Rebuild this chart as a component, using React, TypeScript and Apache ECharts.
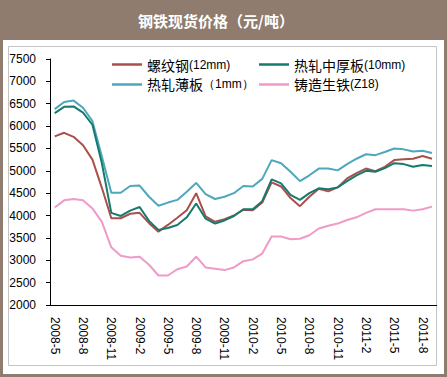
import React, { useEffect, useRef } from "react";
import * as echarts from "echarts";

const categories = [
  "2008-5", "2008-6", "2008-7", "2008-8", "2008-9", "2008-10", "2008-11", "2008-12",
  "2009-1", "2009-2", "2009-3", "2009-4", "2009-5", "2009-6", "2009-7", "2009-8",
  "2009-9", "2009-10", "2009-11", "2009-12", "2010-1", "2010-2", "2010-3", "2010-4",
  "2010-5", "2010-6", "2010-7", "2010-8", "2010-9", "2010-10", "2010-11", "2010-12",
  "2011-1", "2011-2", "2011-3", "2011-4", "2011-5", "2011-6", "2011-7", "2011-8", "2011-9",
];

const rebar = [
  5770, 5850, 5760, 5570, 5250, 4620, 3940, 3940, 4040, 4060, 3830, 3640, 3790, 3950,
  4120, 4500, 3980, 3860, 3920, 4000, 4130, 4120, 4290, 4740, 4650, 4390, 4210, 4420,
  4600, 4540, 4630, 4830, 4950, 5050, 4990, 5090, 5240, 5260, 5270, 5330, 5270,
];

const plate = [
  6290, 6430, 6440, 6300, 6030, 5170, 4060, 3990, 4110, 4190, 3880, 3680, 3720, 3790,
  3960, 4270, 3930, 3820, 3890, 3990, 4140, 4140, 4320, 4810, 4720, 4460, 4350, 4500,
  4610, 4590, 4630, 4770, 4900, 5000, 4980, 5060, 5170, 5150, 5090, 5130, 5110,
];

const sheet = [
  6380, 6540, 6570, 6410, 6110, 5320, 4510, 4510, 4660, 4670, 4420, 4220, 4290, 4350,
  4530, 4730, 4480, 4370, 4420, 4500, 4660, 4650, 4820, 5240, 5170, 4980, 4770, 4900,
  5050, 5050, 5010, 5150, 5270, 5370, 5350, 5420, 5500, 5480, 5430, 5450, 5400,
];

const pigIron = [
  4180, 4340, 4370, 4340, 4160, 3860, 3290, 3100, 3060, 3080, 2900, 2660, 2660, 2800,
  2860, 3080, 2840, 2810, 2780, 2840, 2980, 3020, 3150, 3530, 3530, 3470, 3480, 3560,
  3710, 3770, 3820, 3900, 3960, 4060, 4140, 4140, 4140, 4140, 4110, 4140, 4200,
];

const seriesNames = ["螺纹钢(12mm)", "热轧中厚板(10mm)", "热轧薄板（1mm）", "铸造生铁(Z18)"];
const seriesColors = ["#AA4F4B", "#167A6E", "#4DA7BD", "#F09AC8"];
const yTicks = { min: 2000, max: 7500, interval: 500 };
const title = "钢铁现货价格（元/吨）";

const BROWN = "#8F7C6E";

function legendFormatter(name: string) {
  const m = name.match(/^([^(（]+)(.*)$/);
  if (!m) return name;
  return `{a|${m[1]}}{b|${m[2]}}`;
}

const legendText = {
  color: "#000",
  rich: {
    a: { fontSize: 14, fontFamily: "Noto Sans CJK SC", color: "#000", height: 16 },
    b: { fontSize: 12, fontFamily: "Liberation Sans", color: "#000", height: 16 },
  },
};

export default function App() {
  const ref = useRef<HTMLDivElement>(null);
  useEffect(() => {
    const chart = echarts.init(ref.current!, null, { renderer: "svg" });
    const data = [rebar, plate, sheet, pigIron];
    const legendBase = {
      orient: "vertical",
      top: 52.5,
      icon: "rect",
      itemWidth: 30,
      itemHeight: 2.5,
      itemGap: 6,
      formatter: legendFormatter,
      textStyle: legendText,
    };
    chart.setOption({
      animation: false,
      backgroundColor: "#fff",
      graphic: [
        { type: "rect", shape: { x: 0, y: 0, width: 447, height: 40 }, style: { fill: BROWN }, silent: true },
        { type: "rect", shape: { x: 0, y: 0, width: 3, height: 377 }, style: { fill: BROWN }, silent: true },
        { type: "rect", shape: { x: 444, y: 0, width: 3, height: 377 }, style: { fill: BROWN }, silent: true },
        { type: "rect", shape: { x: 0, y: 374, width: 447, height: 3 }, style: { fill: BROWN }, silent: true },
        { type: "rect", shape: { x: 8.5, y: 46.5, width: 428, height: 319 }, style: { fill: "none", stroke: "#C4C4C4", lineWidth: 1 }, silent: true },
        {
          type: "text",
          x: 216,
          y: 20,
          style: {
            text: title,
            fill: "#fff",
            font: "bold 15px 'Noto Sans CJK SC'",
            textAlign: "center",
            textVerticalAlign: "middle",
          },
        },
      ],
      legend: [
        { ...legendBase, left: 107, data: [seriesNames[0], seriesNames[2]] },
        { ...legendBase, left: 254, data: [seriesNames[1], seriesNames[3]] },
      ],
      grid: { left: 50, top: 59, right: 10.3, bottom: 72 },
      xAxis: {
        type: "category",
        data: categories,
        boundaryGap: true,
        axisLine: { lineStyle: { color: "#000", width: 1 } },
        axisTick: { inside: true, length: 3, interval: 0, lineStyle: { color: "#000" } },
        axisLabel: {
          interval: 2,
          rotate: -90,
          margin: 12,
          color: "#000",
          fontSize: 12,
          fontFamily: "Liberation Sans",
        },
        splitLine: { show: false },
      },
      yAxis: {
        type: "value",
        min: yTicks.min,
        max: yTicks.max,
        interval: yTicks.interval,
        axisLine: { show: true, lineStyle: { color: "#000", width: 1 } },
        axisTick: { show: true, length: 4, lineStyle: { color: "#000" } },
        axisLabel: {
          color: "#000",
          fontSize: 12,
          fontFamily: "Liberation Sans",
          margin: 14,
          formatter: (v: number) => String(v),
        },
        splitLine: { show: false },
      },
      series: seriesNames.map((name, i) => ({
        name,
        type: "line",
        data: data[i],
        symbol: "none",
        showSymbol: false,
        color: seriesColors[i],
        lineStyle: { width: 2, color: seriesColors[i] },
        z: i === 1 ? 4 : 3,
      })),
    });
    return () => chart.dispose();
  }, []);
  return (
    <div
      ref={ref}
      style={{ position: "fixed", left: 0, top: 0, width: 447, height: 377 }}
    />
  );
}
